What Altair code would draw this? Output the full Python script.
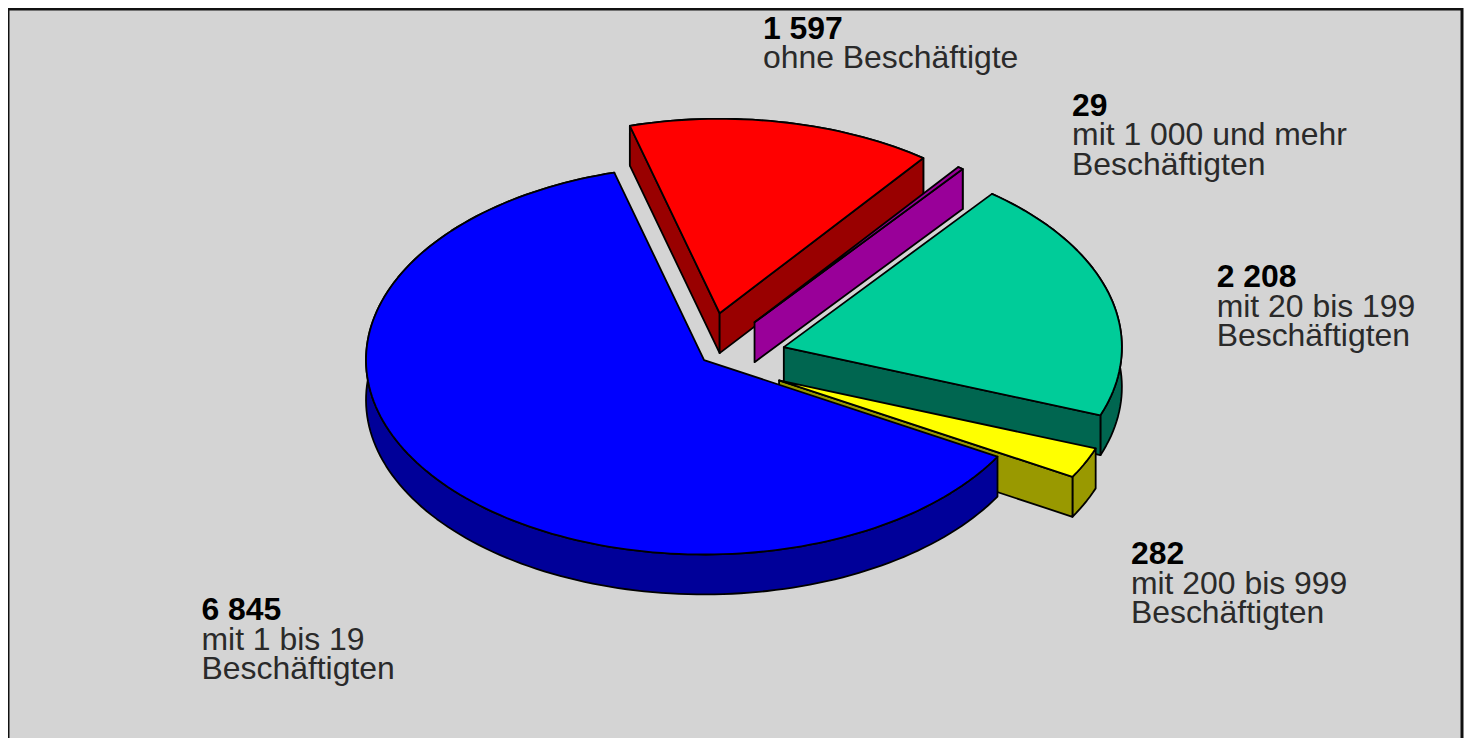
import math
import altair as alt

# ---- values ----
categories = ["ohne Beschäftigte", "mit 1 000 und mehr Beschäftigten", "mit 20 bis 199 Beschäftigten",
              "mit 200 bis 999 Beschäftigten", "mit 1 bis 19 Beschäftigten"]
values = [1597, 29, 2208, 282, 6845]
value_labels = ["1 597", "29", "2 208", "282", "6 845"]
label_lines = [["ohne Beschäftigte"], ["mit 1 000 und mehr", "Beschäftigten"], ["mit 20 bis 199", "Beschäftigten"],
               ["mit 200 bis 999", "Beschäftigten"], ["mit 1 bis 19", "Beschäftigten"]]
top_colors = ["#FF0000", "#990099", "#00CC99", "#FFFF00", "#0000FF"]
side_colors = ["#990000", "#990099", "#006650", "#999900", "#000099"]
exploded = [True, True, True, True, False]

# ---- drawing geometry of the oblique pie (in chart pixels) ----
CX, CY = 698.0, 352.0
RX, RY = 339.0, 195.0
DEPTH = 40.0
EXPLODE = 0.245
START_ANGLE = 344.6  # clockwise from the top
label_anchor = [(757, 30), (1067, 107), (1212, 279), (1126, 557), (194, 613)]
LINE_STEP = 29.5
FONT = "Liberation Sans"
FONT_SIZE = 32


def pt(cx, cy, t):
    r = math.radians(t)
    return [cx + RX * math.sin(r), cy - RY * math.cos(r)]


def poly(key, ring):
    ring = ring + [ring[0]]
    return {"type": "Feature", "properties": {"key": key},
            "geometry": {"type": "Polygon", "coordinates": [ring]}}


features = []
total = sum(values)
angle = START_ANGLE
for i, v in enumerate(values):
    span = 360.0 * v / total
    a, b = angle, angle + span
    angle = b
    mid = math.radians((a + b) / 2)
    e = EXPLODE if exploded[i] else 0.0
    ax = CX + e * RX * math.sin(mid)
    ay = CY - e * RY * math.cos(mid)
    n = max(2, int(span / 1.5) + 1)
    ts = [a + (b - a) * k / n for k in range(n + 1)]
    arc = [pt(ax, ay, t) for t in ts]
    low = [[x, y + DEPTH] for x, y in arc]
    apex, apex_low = [ax, ay], [ax, ay + DEPTH]
    s = f"side{i}"
    features.append(poly(s, arc + low[::-1]))
    # a cut face is only visible when its outward normal points towards the viewer
    if math.cos(math.radians(a - 90)) < 0:
        features.append(poly(s, [apex, arc[0], low[0], apex_low]))
    if math.cos(math.radians(b + 90)) < 0:
        features.append(poly(s, [apex, arc[-1], low[-1], apex_low]))
    features.append(poly(f"top{i}", [apex] + arc))

domain = [f"top{i}" for i in range(5)] + [f"side{i}" for i in range(5)]
palette = top_colors + side_colors

pie = (
    alt.Chart(alt.Data(values=features))
    .mark_geoshape(stroke="#000000", strokeWidth=1.8, strokeJoin="round")
    .encode(color=alt.Color("properties.key:N", scale=alt.Scale(domain=domain, range=palette), legend=None))
    .project(type="identity", scale=1, translate=[0, 0])
)

layers = [pie]
for i in range(5):
    x0, y0 = label_anchor[i]
    layers.append(
        alt.Chart(alt.Data(values=[{"t": value_labels[i]}]))
        .mark_text(align="left", baseline="alphabetic", font=FONT, fontSize=FONT_SIZE,
                   fontWeight="bold", color="#000000")
        .encode(x=alt.value(x0), y=alt.value(y0), text="t:N")
    )
    layers.append(
        alt.Chart(alt.Data(values=[{"k": categories[i]}]))
        .mark_text(align="left", baseline="alphabetic", font=FONT, fontSize=FONT_SIZE,
                   color="#2A2A2A", lineHeight=LINE_STEP, text=label_lines[i])
        .encode(x=alt.value(x0), y=alt.value(y0 + LINE_STEP))
    )

chart = (
    alt.layer(*layers)
    .properties(width=1458, height=745,
                padding={"left": 0, "top": 0, "right": 2, "bottom": 0},
                autosize=alt.AutoSizeParams(type="none"), background="#FFFFFF")
    .configure_view(fill="#D4D4D4", stroke="#111111", strokeWidth=3)
)
chart.save("out.html", embed_options={"renderer": "svg", "actions": False})
